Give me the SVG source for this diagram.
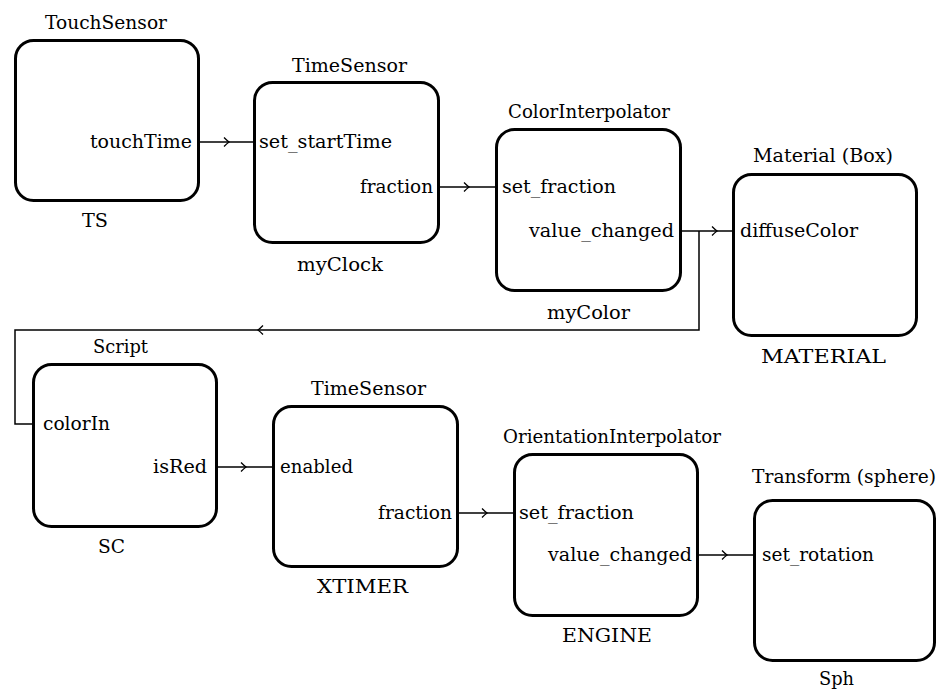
<svg xmlns="http://www.w3.org/2000/svg" xmlns:xlink="http://www.w3.org/1999/xlink" width="940" height="691" viewBox="0 0 940 691">
<style>
  .box { fill: #ffffff; stroke: #000000; stroke-width: 3; }
  .t { font-family: "DejaVu Serif", "Liberation Serif", serif; font-size: 19px; fill: #000000; }
  .wire { fill: none; stroke: #000000; stroke-width: 1.5; }
  .chev { fill: none; stroke: #000000; stroke-width: 1.3; }
</style>
<defs>
  <path id="chev" class="chev" d="M-5,-4.5 Q-2,-1.5 0,0 Q-2,1.5 -5,4.5"/>
</defs>
<rect width="940" height="691" fill="#ffffff"/>

<g id="connectors">
  <path class="wire" d="M200,142 H254"/>
  <use xlink:href="#chev" href="#chev" x="229" y="142"/>
  <path class="wire" d="M440,187 H496"/>
  <use xlink:href="#chev" href="#chev" x="469" y="187"/>
  <path class="wire" d="M682,231 H733"/>
  <use xlink:href="#chev" href="#chev" x="717" y="231"/>
  <path class="wire" d="M699,231 V330 H15 V424 H33"/>
  <use xlink:href="#chev" href="#chev" transform="translate(258,330) rotate(180)"/>
  <path class="wire" d="M218,467 H273"/>
  <use xlink:href="#chev" href="#chev" x="246" y="467"/>
  <path class="wire" d="M459,513 H514"/>
  <use xlink:href="#chev" href="#chev" x="487" y="513"/>
  <path class="wire" d="M699,555 H754"/>
  <use xlink:href="#chev" href="#chev" x="727" y="555"/>
</g>

<g id="TS">
  <rect class="box" x="15.5" y="40.5" width="183" height="160" rx="18"/>
  <text class="t" x="45" y="29" textLength="122" lengthAdjust="spacingAndGlyphs">TouchSensor</text>
  <text class="t" x="90" y="148" textLength="102" lengthAdjust="spacingAndGlyphs">touchTime</text>
  <text class="t" x="82" y="227" textLength="26" lengthAdjust="spacingAndGlyphs">TS</text>
</g>

<g id="myClock">
  <rect class="box" x="254.5" y="82.5" width="184" height="160" rx="18"/>
  <text class="t" x="292" y="72" textLength="115" lengthAdjust="spacingAndGlyphs">TimeSensor</text>
  <text class="t" x="259" y="148" textLength="133" lengthAdjust="spacingAndGlyphs">set_startTime</text>
  <text class="t" x="360" y="193" textLength="73" lengthAdjust="spacingAndGlyphs">fraction</text>
  <text class="t" x="297" y="271" textLength="86" lengthAdjust="spacingAndGlyphs">myClock</text>
</g>

<g id="myColor">
  <rect class="box" x="496.5" y="129.5" width="184" height="161" rx="18"/>
  <text class="t" x="508" y="118" textLength="162" lengthAdjust="spacingAndGlyphs">ColorInterpolator</text>
  <text class="t" x="502" y="193" textLength="114" lengthAdjust="spacingAndGlyphs">set_fraction</text>
  <text class="t" x="529" y="237" textLength="145" lengthAdjust="spacingAndGlyphs">value_changed</text>
  <text class="t" x="547" y="319" textLength="83" lengthAdjust="spacingAndGlyphs">myColor</text>
</g>

<g id="MATERIAL">
  <rect class="box" x="733.5" y="174.5" width="183" height="161" rx="18"/>
  <text class="t" x="753" y="162" textLength="140" lengthAdjust="spacingAndGlyphs">Material (Box)</text>
  <text class="t" x="740" y="237" textLength="118" lengthAdjust="spacingAndGlyphs">diffuseColor</text>
  <text class="t" x="761" y="363" textLength="125" lengthAdjust="spacingAndGlyphs">MATERIAL</text>
</g>

<g id="SC">
  <rect class="box" x="33.5" y="364.5" width="183" height="162" rx="18"/>
  <text class="t" x="93" y="353" textLength="55" lengthAdjust="spacingAndGlyphs">Script</text>
  <text class="t" x="43" y="430" textLength="67" lengthAdjust="spacingAndGlyphs">colorIn</text>
  <text class="t" x="153" y="473" textLength="54" lengthAdjust="spacingAndGlyphs">isRed</text>
  <text class="t" x="98" y="553" textLength="27" lengthAdjust="spacingAndGlyphs">SC</text>
</g>

<g id="XTIMER">
  <rect class="box" x="273.5" y="406.5" width="184" height="160" rx="18"/>
  <text class="t" x="311" y="395" textLength="115" lengthAdjust="spacingAndGlyphs">TimeSensor</text>
  <text class="t" x="280" y="473" textLength="73" lengthAdjust="spacingAndGlyphs">enabled</text>
  <text class="t" x="378" y="519" textLength="74" lengthAdjust="spacingAndGlyphs">fraction</text>
  <text class="t" x="317" y="593" textLength="91" lengthAdjust="spacingAndGlyphs">XTIMER</text>
</g>

<g id="ENGINE">
  <rect class="box" x="514.5" y="454.5" width="183" height="161" rx="18"/>
  <text class="t" x="503" y="443" textLength="218" lengthAdjust="spacingAndGlyphs">OrientationInterpolator</text>
  <text class="t" x="519" y="519" textLength="115" lengthAdjust="spacingAndGlyphs">set_fraction</text>
  <text class="t" x="548" y="561" textLength="144" lengthAdjust="spacingAndGlyphs">value_changed</text>
  <text class="t" x="562" y="642" textLength="90" lengthAdjust="spacingAndGlyphs">ENGINE</text>
</g>

<g id="Sph">
  <rect class="box" x="754.5" y="500.5" width="180" height="160" rx="18"/>
  <text class="t" x="752" y="483" textLength="184" lengthAdjust="spacingAndGlyphs">Transform (sphere)</text>
  <text class="t" x="762" y="561" textLength="112" lengthAdjust="spacingAndGlyphs">set_rotation</text>
  <text class="t" x="819" y="685" textLength="35" lengthAdjust="spacingAndGlyphs">Sph</text>
</g>
</svg>
